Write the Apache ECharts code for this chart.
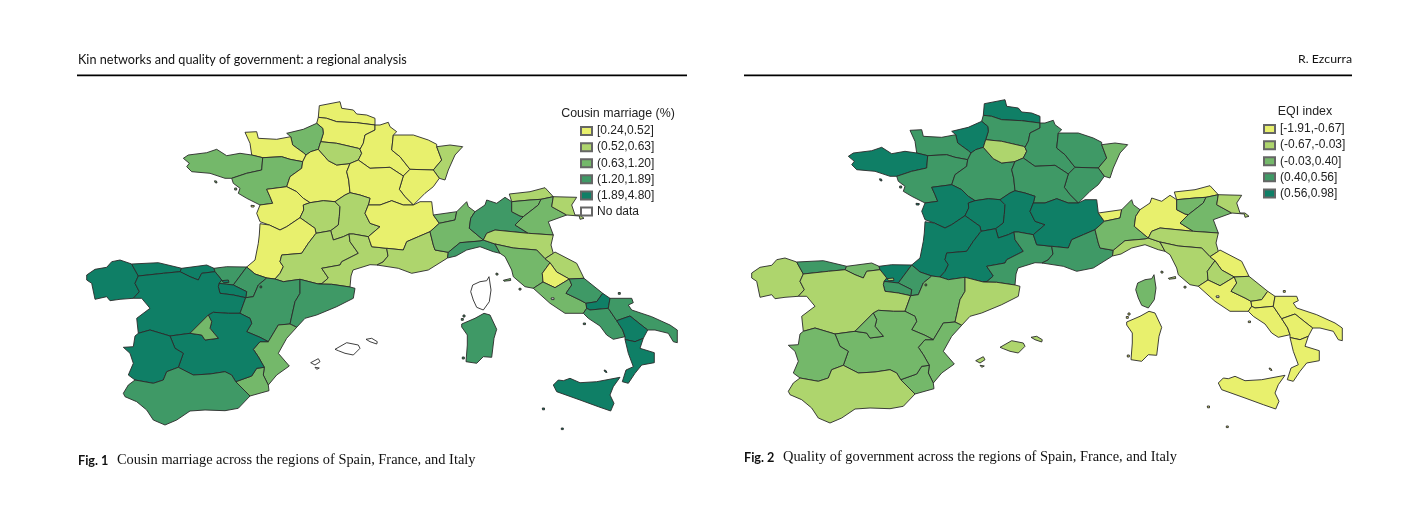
<!DOCTYPE html>
<html>
<head>
<meta charset="utf-8">
<title>Kin networks and quality of government</title>
<script src="https://cdn.jsdelivr.net/npm/echarts@6/dist/echarts.min.js"></script>
<style>
html,body{margin:0;padding:0;background:#fff;}
#main{width:1416px;height:516px;}
</style>
</head>
<body>
<div id="main"></div>
<script>
// regions, same order in all value lists
var regionNames = ['Nord-Pas-de-Calais','Picardie','Haute-Normandie','Basse-Normandie','Bretagne','Pays de la Loire','Centre','Ile-de-France','Champagne-Ardenne','Lorraine','Alsace','Franche-Comte','Bourgogne','Poitou-Charentes','Limousin','Auvergne','Aquitaine','Midi-Pyrenees','Languedoc-Roussillon','Rhone-Alpes','PACA','Corse',
    'Valle d\'Aosta','Piemonte','Liguria','Lombardia','Alto Adige','Trentino','Veneto','Friuli-VG','Emilia-Romagna','Toscana','Marche','Umbria','Lazio','Abruzzo','Molise','Campania','Puglia','Basilicata','Calabria','Sicilia','Sardegna',
    'Galicia','Asturias','Cantabria','Pais Vasco','Navarra','La Rioja','Castilla y Leon','Aragon','Cataluna','Valencia','Murcia','Castilla-La Mancha','Madrid','Extremadura','Andalucia','Baleares'];
// estimated inside the class each region is coloured with, null = no data
var cousinMarriage = [0.40,0.45,0.90,0.42,0.85,0.95,0.38,0.58,0.35,0.44,0.55,0.47,0.41,0.46,0.60,0.57,0.50,0.60,0.56,0.43,0.59,null,
    0.80,0.90,1.50,1.40,0.58,0.85,0.95,0.60,0.57,0.80,0.60,0.48,1.00,1.50,2.10,1.60,1.55,2.50,3.20,3.50,1.45,
    2.40,2.20,2.00,1.30,1.35,2.10,2.60,1.50,1.40,0.90,1.00,2.80,1.10,3.00,1.60,null];
var eqiIndex = [0.70,0.50,0.65,0.48,0.75,0.50,0.52,-0.20,0.47,0.50,0.20,0.45,0.46,0.68,0.72,0.74,0.66,0.70,0.48,0.76,0.45,0.10,
    -0.90,0.25,-0.30,-0.75,-1.00,0.30,0.15,-0.20,-0.10,-0.25,-0.80,-0.30,-1.10,-0.40,-1.05,-1.90,-1.60,-1.30,-1.70,-1.50,-1.20,
    -0.30,0.50,0.10,0.90,0.45,0.48,-0.15,0.20,-0.10,0.05,0.15,0.10,0.30,0.00,-0.40,-0.25];

var classColors = ['#e8f06d','#aed56d','#74b86a','#3f9966','#0f7f66'];
var cousinBreaks = [0.24,0.52,0.63,1.20,1.89,4.80];
var eqiBreaks = [-1.91,-0.67,-0.03,0.40,0.56,0.98];
var cousinLabels = ['[0.24,0.52]','(0.52,0.63]','(0.63,1.20]','(1.20,1.89]','(1.89,4.80]'];
var eqiLabels = ['[-1.91,-0.67]','(-0.67,-0.03]','(-0.03,0.40]','(0.40,0.56]','(0.56,0.98]'];

var arcs = {
    npdc_coast:'318.3,117.3 319.3,105.7 340,101.7 341.7,108.3 353.3,110 356.7,114 366.7,115 375,118.3 375,125',
    npdc_pic:'318.3,117.3 326.7,118.3 336.7,121.7 356.7,122.7 375,125',
    pic_coast:'318.3,117.3 316.7,123.3',
    pic_hn:'316.7,123.3 322.7,128.3 323.3,133.3 320.7,141.7',
    pic_idf:'320.7,141.7 336.7,143.3 358.3,148.3 360,149.3',
    pic_cha:'375,125 375,130 365,135 363.3,143.3 360,149.3',
    hn_coast:'316.7,123.3 303.3,129.3 286.7,133.3 290.7,136.7',
    hn_bn:'290.7,136.7 292.7,145 303.3,152.7 306,155',
    hn_cen:'306,155 310.7,151.7 318.3,149.3',
    hn_idf:'320.7,141.7 318.3,149.3',
    bn_coast:'290.7,136.7 276.7,139.3 258.3,138.3 256.7,131.7 245,132.3 250,143.3 251.7,155',
    bn_bre:'251.7,155 262.7,157.7',
    bn_pl:'262.7,157.7 281.7,156.7 290,159.3 302.7,161.7',
    bn_cen:'302.7,161.7 306,155',
    bre_coast:'251.7,155 240,153.3 226.7,155.7 216.7,149.3 206.7,152.7 188.3,155 183.3,158.3 189.3,163.3 186.7,166.7 191.7,171.7 210,173.3 225,178.3 231.7,178.3',
    bre_pl:'262.7,157.7 261.7,170 246.7,173.3 231.7,178.3',
    pl_coast:'231.7,178.3 233.3,183.3 240,188.3 238.3,193.3 246.7,198.3 260,205',
    pl_pc:'260,205 272.7,203.3 270,196.7 266.7,189.3 286.7,186.7',
    pl_cen:'286.7,186.7 290,176.7 301.7,168.3 302.7,161.7',
    cen_pc:'286.7,186.7 296.7,191.7 303.3,198.3 310,202.7',
    cen_lim:'310,202.7 323.3,200.7 335,201.7',
    cen_auv:'335,201.7 345,195 350,192.7',
    cen_bou:'350,192.7 348.7,180 346.7,171.7 350,163.5',
    cen_idf:'350,163.5 336.7,165 328.3,160.7 318.3,149.3',
    idf_cha:'360,149.3 361.7,153.3 358.3,160',
    idf_bou:'358.3,160 350,163.5',
    cha_top:'375,125 380,125 388.3,122.3 390,126.7 396.7,131.7 393.3,135',
    cha_lor:'393.3,135 391.7,150 400,156.7 410,169.3',
    cha_fc:'410,169.3 403.3,176',
    cha_bou:'403.3,176 390,167.3 370,168.3 358.3,160',
    lor_top:'393.3,135 413.3,135 428.3,140 436.7,144.3 436.7,146.7',
    lor_al:'436.7,146.7 441.7,160 433.3,170',
    lor_fc:'433.3,170 410,169.3',
    al_top:'436.7,146.7 450,145 462.7,146.7 455,155 448.3,170 445,180 439.3,178.3',
    al_fc:'433.3,170 439.3,178.3',
    fc_ch:'439.3,178.3 433.3,186.7 425,193.3 413.3,205',
    bou_fc:'403.3,176 399.3,189.3 405,196.7 413.3,205',
    bou_ra:'413.3,205 403.3,205 391.7,200.7 380,205 368.3,205',
    bou_auv:'368.3,205 370,198.3 360,195 350,192.7',
    pc_lim:'310,202.7 303.3,205 303.7,210 300,217.7',
    pc_aq:'300,217.7 286.7,226.7 280,230 269.3,225',
    pc_coast:'269.3,225 260,221.7 256.7,213.3 260,205',
    lim_auv:'335,201.7 340,206.7 339.3,216.7 338.3,225 330.7,230.7',
    lim_mp:'330.7,230.7 316,233.3',
    lim_aq:'316,233.3 315,228.3 300,217.7',
    auv_ra:'368.3,205 365,213.3 370,223.3 380,226.7 368.3,236.7',
    auv_lr:'368.3,236.7 353.3,234 349,234',
    auv_mp:'349,234 343.3,236.7 333.3,240 330.7,230.7',
    aq_mp:'316,233.3 308.3,243.3 301.7,253.3 281.7,255 280,261.7 283.3,266.7 280,273.3 275,279',
    nav_aq:'246.7,267 255,274 266.7,278',
    aq_ara:'266.7,278 275,279',
    aq_coast:'246.7,267 255,260 258.3,243.3 259.3,235 260,223.7 269.3,225',
    mp_lr:'349,234 350,241.7 358.3,253.3 341.7,261.7 340,265 321.7,268.3 328.3,278 322,283.5 318.3,284',
    mp_cat:'318.3,284 300,279.3',
    mp_ara:'300,279.3 283.3,281.7 275,279',
    ra_ch:'413.3,205 420,201.7 431.7,201.7 433.3,215',
    ra_aos:'433.3,215 439.3,223.3',
    ra_pie:'439.3,223.3 430,231.7',
    ra_paca:'430,231.7 418.3,236.7 406.7,241.7 403.3,250 386.7,248.3',
    ra_lr:'386.7,248.3 371.7,246.7 368.3,236.7',
    lr_paca:'386.7,248.3 388,256 383,262 377,265',
    lr_coast:'377,265 370,264.7 353,270 351,276 350,287',
    lr_cat:'350,287 331.7,284.3 318.3,284',
    paca_pie:'430,231.7 433.3,245 435,250 448.3,252.3',
    paca_lig:'448.3,252.3 447.5,258',
    paca_coast:'447.5,258 428.3,270 411.7,273.3 398.3,268.3 377,265',
    // Italy
    aos_n:'433.3,215 456.7,211.7',
    aos_pie:'456.7,211.7 455,220 439.3,223.3',
    pie_swiss:'456.7,211.7 466.7,201.7 468.3,206.7 475,211.7',
    pie_lom:'475,211.7 470.7,218.3 469.3,228.3 483.3,240',
    pie_lig:'483.3,240 480,241 460,242.7 448.3,252.3',
    lig_coast:'447.5,258 456,256 466.7,250 480,246.7 493.3,251.7 500,253.3',
    lig_emr:'483.3,240 495,244',
    lig_tos:'495,244 500,253.3',
    lom_swiss:'475,211.7 485,205 486.7,200 496.7,203.3 505,197.3 511.7,201.7',
    aa_n:'511.7,201.7 509.3,194 530,191.7 545,187.7 553.3,196.7',
    aa_ven:'553.3,196.7 541,199.3',
    aa_tre:'541,199.3 530,200 511.7,201.7',
    tre_ven:'541,199.3 538.3,205 523.3,216.7',
    tre_lom:'523.3,216.7 520,216 511.7,211.7 511.7,201.7',
    ven_fvg:'553.3,196.7 551.7,206.7 566.7,215',
    ven_coast:'566.7,215 548.3,221.7 553.3,235',
    ven_emr:'553.3,235 528.3,233.3',
    ven_lom:'528.3,233.3 515,225 523.3,216.7',
    fvg_n:'553.3,196.7 576.7,197.3 571.7,205 575,215 580,215 584,218.3 580,219.3 579.3,216 566.7,215',
    lom_emr:'528.3,233.3 495,230 486.7,233.3 483.3,240',
    emr_coast:'553.3,235 551,245 553.3,253.3',
    emr_mar:'553.3,253.3 545,258.7',
    emr_tos:'545,258.7 536.7,250 513.3,248 495,244',
    mar_tos:'545,258.7 550,262.7',
    mar_umb:'550,262.7 556.7,272 569.3,279',
    mar_abr:'569.3,279 584,278.3',
    mar_coast:'584,278.3 576.7,263.3 555,252 553.3,253.3',
    umb_tos:'550,262.7 542.3,273.3 543,282',
    umb_laz:'569.3,279 555,287.7 543,282',
    tos_laz:'543,282 533.3,288.3',
    tos_coast:'533.3,288.3 525,286.7 513.3,276.7 511.7,270 505,256.7 500,253.3',
    laz_coast:'533.3,288.3 550,303.3 565,313.3 583.3,313.3',
    laz_cam:'583.3,313.3 586.7,308.3',
    mol_laz:'586.7,308.3 586,303.3',
    abr_laz:'586,303.3 580,300 566,293.3 571.7,285 569.3,279',
    abr_coast:'584,278.3 602.7,293.3',
    abr_mol:'602.7,293.3 596.7,301.7 586,303.3',
    mol_coast:'602.7,293.3 610,298.3',
    mol_pug:'610,298.3 608.3,308.3',
    mol_cam:'608.3,308.3 590,310 586.7,308.3',
    pug_coast:'610,298.3 631.7,298.3 633.3,302.7 628.3,305 631.7,310 651.7,316.7 670,325 677.3,330 677.3,342.7 673.3,341.7 668.3,333.3 655,330 647.7,330',
    pug_bas:'647.7,330 640,324 630,316 616.7,320.7',
    pug_cam:'616.7,320.7 608.3,308.3',
    cam_coast:'583.3,313.3 588.3,318.3 600,326 606.7,335 613.3,339.3 625,336.7',
    cam_bas:'625,336.7 622.7,330 616.7,320.7',
    bas_coast1:'647.7,330 643.3,338.3',
    bas_cal:'643.3,338.3 635,341.7 625,339.5',
    bas_coast2:'625,339.5 625,336.7',
    cal_coast:'643.3,338.3 640,348.3 654.3,352.7 654.3,362.7 641.7,365 635,373.3 628.3,383.3 622.3,381.7 626,370 633.3,366.7 628.3,353.3 625,339.5',
    // Spain
    gal_coast:'131.7,264 120,260 111.7,261.7 106.7,267.3 95,269.3 86.7,275 86.7,280 91.7,283.3 95,299.3 106.7,296.7 110,300.7 120,299.3 133.3,298.3',
    gal_cyl:'133.3,298.3 139.3,291.7 135,283.3 138.3,276',
    gal_ast:'138.3,276 131.7,264',
    ast_coast:'131.7,264 158.3,262.7 181.7,268.3',
    ast_can:'181.7,268.3 180,271.7',
    ast_cyl:'180,271.7 163.3,273.3 138.3,276',
    can_coast:'181.7,268.3 206.7,265 214,268.3',
    can_bas:'214,268.3 215,271.7',
    can_cyl:'215,271.7 201.7,273.3 198.3,280 190,276.7 180,271.7',
    bas_coast:'214,268.3 226.7,266.7 246.7,267',
    bas_nav:'246.7,267 233.3,285',
    bas_rio:'219,283.3 233.3,285',
    bas_cyl:'215,271.7 221.7,280 219,283.3',
    nav_ara:'266.7,278 258.3,285 253.3,296.7 245.7,297.7',
    nav_rio:'245.7,297.7 246.7,291.7 233.3,285',
    rio_cyl:'245.7,297.7 233.3,295 220,293.3 218.3,286.7 219,283.3',
    cyl_ara:'245.7,297.7 240,313.3',
    cyl_clm:'240,313.3 228.3,313.3 213.3,312.3 208.3,315',
    cyl_mad:'208.3,315 190,333.3',
    cyl_clm2:'190,333.3 170,336',
    cyl_ext:'170,336 150,330 138.3,333.3',
    cyl_west:'138.3,333.3 136.7,318.3 150,308.3 141.7,298.3 133.3,298.3',
    ara_cat:'300,279.3 300,293.3 295,301.7 290,324',
    ara_val:'290,324 278.3,325 268.3,341.7',
    ara_clm:'268.3,341.7 260,337.3 246.7,331.7 251.7,323.3 250,318.3 240,313.3',
    cat_coast:'350,287 355,288.3 353.3,298.3 336.7,306.7 316.7,315 305,318.3 296.7,327.3',
    cat_val:'296.7,327.3 290,324',
    val_coast:'296.7,327.3 286.7,338.3 278.3,353.3 289.3,366 276.7,375 268.3,385',
    val_mur:'268.3,385 263.3,375 264.3,367.3',
    val_clm:'264.3,367.3 258.3,356.7 253.3,349.3 260,341.7 268.3,341.7',
    mur_coast:'268.3,385 269,390.7 250,396',
    mur_and:'250,396 235.7,381.7',
    mur_clm:'235.7,381.7 251.7,376 256.7,368.3 264.3,367.3',
    clm_and:'235.7,381.7 231.7,375 225,371.7 210,374 193.3,375 178.3,367.3',
    clm_ext:'178.3,367.3 183.3,353.3 175,348.3 170,336',
    clm_mad:'190,333.3 201.7,335 205,340 218.3,338.3 210,328.3 211.7,321.7 208.3,315',
    ext_west:'138.3,333.3 135,336 133.3,346.7 123.3,347.3 130,353.3 133.3,363.3 128.3,375 135,380',
    ext_and:'135,380 153.3,383.3 163.3,380 166.7,371.7 178.3,367.3',
    and_coast:'250,396 238.3,408.3 225,410.7 205,410 190,411 176.7,420 165,425 153.3,420 146.7,410 136.7,401.7 125,396.7 123.3,393.3 128.3,385 135,380'
};

var regionArcs = {
    'Nord-Pas-de-Calais':['npdc_coast','-npdc_pic'],
    'Picardie':['npdc_pic','pic_cha','-pic_idf','-pic_hn','-pic_coast'],
    'Haute-Normandie':['hn_coast','hn_bn','hn_cen','-hn_idf','-pic_hn'],
    'Basse-Normandie':['bn_coast','bn_bre','bn_pl','bn_cen','-hn_bn'],
    'Bretagne':['bre_coast','-bre_pl','-bn_bre'],
    'Pays de la Loire':['bre_pl','pl_coast','pl_pc','pl_cen','-bn_pl'],
    'Centre':['cen_pc','cen_lim','cen_auv','cen_bou','cen_idf','-hn_cen','-bn_cen','-pl_cen'],
    'Ile-de-France':['pic_idf','idf_cha','idf_bou','cen_idf','-hn_idf'],
    'Champagne-Ardenne':['-pic_cha','cha_top','cha_lor','cha_fc','cha_bou','-idf_cha'],
    'Lorraine':['lor_top','lor_al','lor_fc','-cha_lor'],
    'Alsace':['al_top','-al_fc','-lor_al'],
    'Franche-Comte':['-lor_fc','al_fc','fc_ch','-bou_fc','-cha_fc'],
    'Bourgogne':['-cha_bou','bou_fc','bou_ra','bou_auv','cen_bou','-idf_bou'],
    'Poitou-Charentes':['pc_coast','pl_pc','cen_pc','pc_lim','pc_aq'],
    'Limousin':['cen_lim','lim_auv','lim_mp','lim_aq','-pc_lim'],
    'Auvergne':['cen_auv','-bou_auv','auv_ra','auv_lr','auv_mp','-lim_auv'],
    'Aquitaine':['aq_coast','-pc_aq','-lim_aq','aq_mp','-aq_ara','-nav_aq'],
    'Midi-Pyrenees':['-lim_mp','-auv_mp','mp_lr','mp_cat','mp_ara','-aq_mp'],
    'Languedoc-Roussillon':['-auv_lr','-ra_lr','lr_paca','lr_coast','lr_cat','-mp_lr'],
    'Rhone-Alpes':['-bou_ra','ra_ch','ra_aos','ra_pie','ra_paca','ra_lr','-auv_ra'],
    'PACA':['-ra_paca','paca_pie','paca_lig','paca_coast','-lr_paca'],
    'Valle d\'Aosta':['aos_n','aos_pie','-ra_aos'],
    'Piemonte':['ra_pie','paca_pie','-pie_lig','-pie_lom','-pie_swiss','aos_pie'],
    'Liguria':['-paca_lig','-pie_lig','lig_emr','lig_tos','-lig_coast'],
    'Lombardia':['lom_swiss','-tre_lom','-ven_lom','lom_emr','-pie_lom'],
    'Alto Adige':['aa_n','aa_ven','aa_tre'],
    'Trentino':['-aa_tre','tre_ven','tre_lom'],
    'Veneto':['-aa_ven','ven_fvg','ven_coast','ven_emr','ven_lom','-tre_ven'],
    'Friuli-VG':['fvg_n','-ven_fvg'],
    'Emilia-Romagna':['lig_emr','-emr_tos','-emr_mar','-emr_coast','ven_emr','lom_emr'],
    'Toscana':['-lig_tos','-emr_tos','mar_tos','umb_tos','tos_laz','tos_coast'],
    'Marche':['emr_mar','mar_tos','mar_umb','mar_abr','mar_coast'],
    'Umbria':['-mar_umb','umb_tos','-umb_laz'],
    'Lazio':['tos_laz','laz_coast','laz_cam','mol_laz','abr_laz','umb_laz'],
    'Abruzzo':['mar_abr','abr_coast','abr_mol','abr_laz'],
    'Molise':['mol_coast','mol_pug','mol_cam','mol_laz','-abr_mol'],
    'Campania':['mol_cam','-laz_cam','cam_coast','cam_bas','pug_cam'],
    'Puglia':['pug_coast','pug_bas','pug_cam','-mol_pug'],
    'Basilicata':['-pug_bas','bas_coast1','bas_cal','bas_coast2','cam_bas'],
    'Calabria':['cal_coast','-bas_cal'],
    'Galicia':['gal_coast','gal_cyl','gal_ast'],
    'Asturias':['ast_coast','ast_can','ast_cyl','gal_ast'],
    'Cantabria':['can_coast','can_bas','can_cyl','-ast_can'],
    'Pais Vasco':['bas_coast','bas_nav','-bas_rio','-bas_cyl','-can_bas'],
    'Navarra':['nav_aq','nav_ara','nav_rio','-bas_nav'],
    'La Rioja':['bas_rio','-nav_rio','rio_cyl'],
    'Castilla y Leon':['-ast_cyl','-can_cyl','bas_cyl','-rio_cyl','cyl_ara','cyl_clm','cyl_mad','cyl_clm2','cyl_ext','cyl_west','gal_cyl'],
    'Aragon':['aq_ara','-mp_ara','ara_cat','ara_val','ara_clm','-cyl_ara','-nav_ara'],
    'Cataluna':['-mp_cat','-lr_cat','cat_coast','cat_val','-ara_cat'],
    'Valencia':['-cat_val','val_coast','val_mur','val_clm','-ara_val'],
    'Murcia':['-val_mur','mur_coast','mur_and','mur_clm'],
    'Castilla-La Mancha':['-ara_clm','-val_clm','-mur_clm','clm_and','clm_ext','-cyl_clm2','clm_mad','-cyl_clm'],
    'Madrid':['cyl_mad','clm_mad'],
    'Extremadura':['cyl_ext','ext_west','ext_and','clm_ext'],
    'Andalucia':['-clm_and','-mur_and','and_coast','ext_and']
};

// whole islands and small outlying pieces
var outlines = {
    'Sicilia':['553.3,385 558.3,380 563.3,380.7 570,378.3 580,382.7 596.7,381.7 620,377.3 613.3,386.7 610,395 614,403.3 610.7,411 598.3,406.7 580,400 556.7,391.7',
        '542.3,408 544.5,408 544.5,409.8 542.5,409.8','561.3,428 563.3,428 563.3,429.6 561.3,429.6','604,370 606,370.5 607,372.5 605,372'],
    'Sardegna':['461.7,324 475,318.3 484,313.3 490,315 496.7,329.3 494,338.3 491.7,357.3 483.3,356.7 476.7,363.3 466,361.7 467.3,345 467.3,335 461.7,327',
        '463,315 465,315 465,317 463,317','461.3,318.5 463.3,318.5 463.3,320.3 461.3,320.3','462.3,357 464.3,357 464.3,359 462.3,359'],
    'Corse':['489,276.7 491,290 489.3,301.7 483.3,310 476.7,307.3 473.3,300 470.7,291.7 472.7,285 480,281.7 486.7,280.7'],
    'Baleares':['335,349.3 346.7,342.7 358.3,345 360,348.3 353.3,355 345,353.3 338.3,350.7',
        '366,339.3 371.7,338.3 377.3,341.7 376.7,344 370,341.7',
        '310.7,362.7 318.3,358.7 320,361.7 315,365',
        '315,367.3 319.3,368 316.7,369.3']
};
var isles = {
    'Toscana':['496,273 498,273.5 498,275 496,275','503.3,280.3 510.5,278.5 510.7,280.5 504,281.2','519,288.3 521,288.3 521,290 519,290'],
    'Lazio':['551,298 554,297.8 554,299.6 551.5,299.6'],
    'Puglia':['618.3,292.5 620.3,292.5 620.3,294.3 618.3,294.3'],
    'Campania':['583.3,323 585.5,323 585.5,324.6 583.3,324.6'],
    'Bretagne':['214.5,180.8 216.5,181 217,183 215,182.6'],
    'Pays de la Loire':['234.7,188 236.7,188 236.7,190 234.7,190'],
    'Poitou-Charentes':['251,205.3 254.3,205.6 254,207 251.3,207'],
    'Castilla y Leon':['221.7,280.7 228.3,280 229,282.3 224,282.7'],
    'Aragon':['260,286 261.7,286 261.7,287.8 260,287.8']
};

function parseLine(s) {
    return s.split(' ').map(function (p) {
        var xy = p.split(',');
        return [+xy[0], -xy[1]];//lat goes up, the picture goes down
    });
}
function buildRing(list) {
    var ring = [];
    list.forEach(function (key) {
        var back = key.charAt(0) == '-';
        var pts = parseLine(arcs[back ? key.slice(1) : key]);
        if (back) pts.reverse();
        ring = ring.concat(pts);
    });
    ring.push(ring[0]);
    return ring;
}
function closeLine(s) {
    var ring = parseLine(s);
    ring.push(ring[0]);
    return ring;
}
var regionsGeo = {
    type: 'FeatureCollection',
    features: regionNames.map(function (name) {
        var polys = [];
        if (regionArcs[name]) polys.push([buildRing(regionArcs[name])]);
        (outlines[name] || []).forEach(function (s) { polys.push([closeLine(s)]); });
        (isles[name] || []).forEach(function (s) { polys.push([closeLine(s)]); });
        return {
            type: 'Feature',
            properties: {name: name},
            geometry: {type: 'MultiPolygon', coordinates: polys}
        };
    })
};
echarts.registerMap('regions', regionsGeo);

function toData(values) {
    var out = [];
    regionNames.forEach(function (name, i) {
        if (values[i] !== null) out.push({name: name, value: values[i]});
    });
    return out;
}
function toPieces(breaks) {
    return classColors.map(function (c, i) {
        return {gt: i == 0 ? breaks[0] - 0.01 : breaks[i], lte: breaks[i + 1], color: c};
    });
}
function makeGeo(left, top) {
    return {
        map: 'regions', silent: true, roam: false, aspectScale: 1,
        boundingCoords: [[60, -90], [700, -440]],
        left: left, top: top, width: 640, height: 350,
        itemStyle: {areaColor: '#fff', borderColor: '#2a2a2a', borderWidth: 0.9},
        label: {show: false},
        emphasis: {disabled: true}
    };
}
function makeLegend(left, top, names) {
    return {
        left: left, top: top, orient: 'vertical', icon: 'rect', selectedMode: false,
        itemWidth: 11, itemHeight: 8, itemGap: 0,
        textStyle: {fontFamily: 'Liberation Sans', fontSize: 12, color: '#222', lineHeight: 16.1},
        data: names
    };
}
function legendSeries(labels, colors, geoIndex) {
    return labels.map(function (name, i) {
        return {
            type: 'scatter', coordinateSystem: 'geo', geoIndex: geoIndex, name: name, data: [],
            itemStyle: {color: colors[i], borderColor: '#666', borderWidth: 0.7, opacity: 1}
        };
    });
}
function headText(text, x, y, font, align, fill) {
    return {
        type: 'text', x: x, y: y, silent: true,
        style: {text: text, font: font, fill: fill || '#111', textAlign: align || 'left', textVerticalAlign: 'middle'}
    };
}

var myChart = echarts.init(document.getElementById('main'), null, {renderer: 'canvas'});
var cousinAll = cousinLabels.concat(['No data']);
var option = {
    backgroundColor: '#fff',
    animation: false,
    geo: [makeGeo(60, 90), makeGeo(725, 88)],
    visualMap: [
        {type: 'piecewise', show: false, seriesIndex: 0, pieces: toPieces(cousinBreaks)},
        {type: 'piecewise', show: false, seriesIndex: 1, pieces: toPieces(eqiBreaks)}
    ],
    legend: [makeLegend(575, 118, cousinAll), makeLegend(1258, 116, eqiLabels)],
    series: [
        {type: 'map', geoIndex: 0, data: toData(cousinMarriage)},
        {type: 'map', geoIndex: 1, data: toData(eqiIndex)}
    ].concat(
        legendSeries(cousinAll, classColors.concat(['#fff']), 0),
        legendSeries(eqiLabels, classColors, 1)
    ),
    graphic: [
        {type: 'rect', silent: true, shape: {x: 77, y: 74.5, width: 610, height: 1.8}, style: {fill: '#000'}},
        {type: 'rect', silent: true, shape: {x: 744, y: 74.5, width: 608, height: 1.8}, style: {fill: '#000'}},
        headText('Kin networks and quality of government: a regional analysis', 78, 59.5, '12.65px Lato'),
        headText('R. Ezcurra', 1352, 59.5, '12.3px Lato', 'right'),
        headText('Cousin marriage (%)', 618, 113.5, '12.4px "Liberation Sans"', 'center', '#222'),
        headText('EQI index', 1305, 111.5, '12.4px "Liberation Sans"', 'center', '#222'),
        headText('Fig. 1', 78, 460.5, 'bold 12.65px Lato'),
        headText('Cousin marriage across the regions of Spain, France, and Italy', 117, 460.5, '14.4px "Liberation Serif"'),
        headText('Fig. 2', 744, 457.5, 'bold 12.65px Lato'),
        headText('Quality of government across the regions of Spain, France, and Italy', 783, 457.5, '14.4px "Liberation Serif"')
    ]
};
myChart.setOption(option);
</script>
</body>
</html>
